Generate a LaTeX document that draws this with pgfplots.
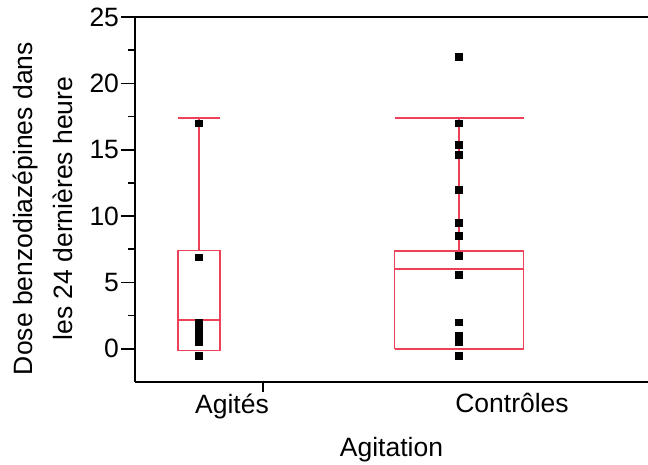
\documentclass[border=0pt]{standalone}
\usepackage{fontspec}
\setmainfont{Liberation Sans}
\usepackage{pgfplots}
\pgfplotsset{compat=1.18}
\definecolor{boxred}{RGB}{238,64,88}
\newcommand\fs{\fontsize{26.5bp}{31bp}\selectfont}
\begin{document}
\begin{tikzpicture}
\useasboundingbox (0,0) rectangle (648bp,465bp);
\begin{axis}[
  at={(135bp,83bp)}, anchor=south west,
  width=513bp, height=365bp, scale only axis,
  xmin=0, xmax=513, ymin=-2.5, ymax=25,
  axis y line*=left,
  axis line style={line width=1.6bp, black},
  ytick={0,5,...,25}, minor y tick num=1,
  tick align=outside,
  xtick pos=left, ytick pos=left,
  major tick length=14bp, minor tick length=7bp,
  every tick/.style={black, line width=1.6bp},
  xtick={97,377}, xticklabels={Agités,Contrôles},
  major x tick style={draw=none},
  extra x ticks={128}, extra x tick labels={},
  extra x tick style={major x tick style={draw=black}, major tick length=10bp},
  tick label style={font=\fs},
  xticklabel style={yshift=6bp},
  yticklabel style={xshift=1.5bp},
  /pgf/number format/assume math mode=true,
  xlabel={Agitation},
  xlabel style={font=\fs, at={(axis description cs:0.5,-0.186)}, anchor=center},
  ylabel={Dose benzodiazépines dans\\les 24 dernières heure},
  ylabel style={align=center, font=\fontsize{26.5bp}{40bp}\selectfont, at={(axis description cs:-0.179,0.475)}, anchor=center},
  clip=false,
  boxstyle/.style={draw=boxred, line width=1.8bp, mark=none, solid},
]
% Agités box plot
\addplot[boxstyle] coordinates {(43,-0.13) (85,-0.13) (85,7.4) (43,7.4) (43,-0.13)};
\addplot[boxstyle] coordinates {(43,2.2) (85,2.2)};
\addplot[boxstyle] coordinates {(64,7.4) (64,17.4)};
\addplot[boxstyle] coordinates {(43,17.4) (85,17.4)};
% Contrôles box plot
\addplot[boxstyle] coordinates {(259.5,0) (388.5,0) (388.5,7.35) (259.5,7.35) (259.5,0)};
\addplot[boxstyle] coordinates {(259.5,6.0) (388.5,6.0)};
\addplot[boxstyle] coordinates {(324,7.35) (324,17.4)};
\addplot[boxstyle] coordinates {(259.5,17.4) (388.5,17.4)};
% data points
\addplot[only marks, mark=square*, mark size=3.4bp, black] coordinates {(64,17)(64,6.9)(64,2)(64,1.5)(64,1)(64,0.5)(64,-0.5)};
\addplot[only marks, mark=square*, mark size=3.4bp, black] coordinates {(324,22)(324,17)(324,15.4)(324,14.6)(324,12)(324,9.5)(324,8.5)(324,7)(324,5.6)(324,2)(324,1)(324,0.5)(324,-0.5)};
\end{axis}
\end{tikzpicture}
\end{document}
